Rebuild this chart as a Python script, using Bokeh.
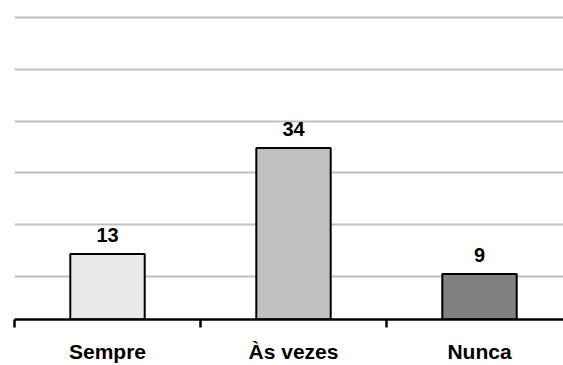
from bokeh.plotting import figure
from bokeh.models import ColumnDataSource, FixedTicker, LinearAxis, Range1d
from bokeh.core.properties import value
from bokeh.embed import file_html
from bokeh.resources import INLINE

categories = ["Sempre", "Às vezes", "Nunca"]
counts = [13, 34, 9]
bar_colors = ["#eaeaea", "#c0c0c0", "#808080"]
grid_values = [8.5, 18.8, 29.05, 39.3, 49.6, 59.9]

xs = [i + 0.5 for i in range(len(categories))]
src = ColumnDataSource(dict(x=xs, top=counts, color=bar_colors,
                            label=[str(c) for c in counts]))

p = figure(width=563, height=365, output_backend="svg", toolbar_location=None,
           x_range=Range1d(0, 549 / 186), y_range=Range1d(0, 320 / 5.06),
           x_axis_location=None, y_axis_location=None,
           min_border_left=14, min_border_right=0, min_border_top=0,
           min_border_bottom=0)
p.outline_line_color = None
p.background_fill_color = "white"
p.border_fill_color = "white"

p.xgrid.visible = False
p.ygrid.ticker = FixedTicker(ticks=grid_values)
p.ygrid.grid_line_color = "#c0c0c0"
p.ygrid.grid_line_width = 2

p.vbar(x="x", top="top", bottom=0, width=0.4, source=src,
       fill_color="color", line_color="black", line_width=2)

p.text(x="x", y="top", text="label", source=src, text_align="center",
       text_baseline="alphabetic", y_offset=-19,
       text_font=value("Liberation Sans"), text_font_style="bold",
       text_font_size="20px", text_color="black")

xaxis = LinearAxis(ticker=FixedTicker(ticks=xs, minor_ticks=list(range(len(categories) + 1))))
xaxis.major_label_overrides = {x: c for x, c in zip(xs, categories)}
xaxis.major_tick_line_color = None
xaxis.major_tick_out = 0
xaxis.major_tick_in = 0
xaxis.minor_tick_line_color = "black"
xaxis.minor_tick_line_width = 2.5
xaxis.minor_tick_out = 8
xaxis.minor_tick_in = 0
xaxis.axis_line_color = "black"
xaxis.axis_line_width = 2.5
xaxis.major_label_standoff = 12
xaxis.major_label_text_font = "Liberation Sans"
xaxis.major_label_text_font_style = "bold"
xaxis.major_label_text_font_size = "21px"
xaxis.major_label_text_color = "black"
p.add_layout(xaxis, "below")

open("out.html", "w").write(file_html(p, INLINE))
